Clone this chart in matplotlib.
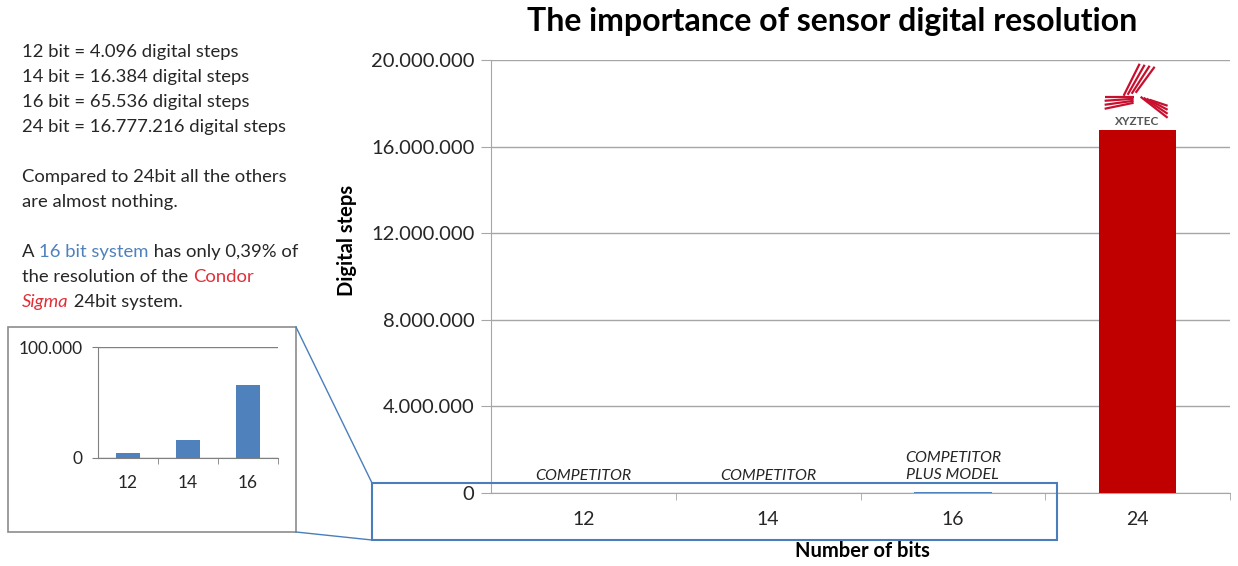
import matplotlib
matplotlib.use("Agg")
import matplotlib.pyplot as plt
from matplotlib.patches import Rectangle
from matplotlib.lines import Line2D
from matplotlib.ticker import FuncFormatter, FixedLocator

plt.rcParams['font.family'] = ['Lato', 'DejaVu Sans']

# ---- data ----
bits = ['12', '14', '16', '24']
steps = [4096, 16384, 65536, 16777216]
bar_colors = ['#4F81BD', '#4F81BD', '#4F81BD', '#C00000']
bar_labels = ['COMPETITOR', 'COMPETITOR', 'COMPETITOR\nPLUS MODEL', '']
y_ticks = [0, 4000000, 8000000, 12000000, 16000000, 20000000]
inset_bits = bits[:3]
inset_steps = steps[:3]
inset_ticks = [0, 100000]

W, H = 1238, 566
fig = plt.figure(figsize=(W / 100, H / 100), dpi=100)


def fx(px):
    return px / W


def fy(py):
    return 1 - py / H


def dots(v, pos=None):
    return f"{int(v):,}".replace(",", ".")


TXT = '#262626'
GRID = '#A6A6A6'

# ---- main axes ----
ax = fig.add_axes([fx(491), fy(493), fx(1230) - fx(491), fy(60) - fy(493)])
x = list(range(len(bits)))
ax.bar(x, steps, width=0.42, color=bar_colors, zorder=3)
ax.set_xlim(-0.5, len(bits) - 0.5)
ax.set_ylim(0, 20000000)
ax.yaxis.set_major_locator(FixedLocator(y_ticks))
ax.yaxis.set_major_formatter(FuncFormatter(dots))
ax.set_xticks(x)
ax.set_xticklabels(bits)
ax.set_xticks([i + 0.5 for i in range(len(bits))], minor=True)
ax.tick_params(axis='x', which='major', length=0, labelsize=14, colors=TXT, pad=13)
ax.tick_params(axis='x', which='minor', length=5, color=GRID, direction='out')
ax.tick_params(axis='y', length=7, color=GRID, labelsize=14.5, labelcolor=TXT, pad=5)
ax.grid(axis='y', color=GRID, lw=1, zorder=0)
for s in ['top', 'right']:
    ax.spines[s].set_visible(False)
for s in ['left', 'bottom']:
    ax.spines[s].set_color(GRID)
ax.set_ylabel('Digital steps', fontsize=14.5, fontweight='bold', color='black')
ax.yaxis.set_label_coords(-0.182, 0.584)
ax.set_xlabel('Number of bits', fontsize=14.5, fontweight='bold', color='black')
ax.xaxis.set_label_coords(0.502, -0.112)
fig.text(fx(832), fy(22), 'The importance of sensor digital resolution', fontsize=23,
         fontweight='bold', ha='center', va='center', color='black')

for xi, v, lab in zip(x, steps, bar_labels):
    if lab:
        ax.annotate(lab, xy=(xi, v), xytext=(0, 7), textcoords='offset points',
                    ha='center', va='bottom', fontsize=11.5, style='italic', color=TXT,
                    linespacing=1.25)

# ---- XYZTEC logo above the 24-bit bar ----
bx, by = x[3], steps[3]


def logo_line(dx0, dy0, dx1, dy1, lw=1.6):
    base = ax.transData.transform((bx, by))
    line = Line2D([base[0] + dx0, base[0] + dx1], [base[1] + dy0, base[1] + dy1],
                  transform=None, color='#C8102E', lw=lw, solid_capstyle='butt')
    fig.add_artist(line)


for i in range(4):
    logo_line(-14 + i * 4, 34 + i * 1, 2 + i * 5, 66 - i * 1)
for i in range(4):
    logo_line(-33, 33 - i * 4, -4, 33 - i * 2)
for i in range(4):
    logo_line(3 + i * 3, 33 - i * 1, 30, 12 + i * 4)
ax.annotate('XYZTEC', xy=(bx, by), xytext=(0, 2), textcoords='offset points',
            ha='center', va='bottom', fontsize=8.5, fontweight='bold', color='#555555')

# ---- inset axes ----
ia = fig.add_axes([fx(98), fy(458), fx(278) - fx(98), fy(347) - fy(458)])
ix = list(range(len(inset_bits)))
ia.bar(ix, inset_steps, width=0.4, color='#4F81BD', zorder=3)
ia.set_xlim(-0.5, len(inset_bits) - 0.5)
ia.set_ylim(0, 100000)
ia.yaxis.set_major_locator(FixedLocator(inset_ticks))
ia.yaxis.set_major_formatter(FuncFormatter(dots))
ia.set_xticks(ix)
ia.set_xticklabels(inset_bits)
ia.set_xticks([i + 0.5 for i in range(len(inset_bits))], minor=True)
ia.tick_params(axis='x', which='major', length=0, labelsize=12.5, colors=TXT, pad=12)
ia.tick_params(axis='x', which='minor', length=4, color='#808080')
ia.tick_params(axis='y', length=4, color='#808080', labelsize=12.5, labelcolor=TXT, pad=7)
ia.grid(axis='y', color='#808080', lw=1, zorder=0)
for s in ['top', 'right']:
    ia.spines[s].set_visible(False)
for s in ['left', 'bottom']:
    ia.spines[s].set_color('#808080')
ia.set_facecolor('none')

# inset frame, zoom rectangle and connectors
fig.add_artist(Rectangle((fx(8), fy(532)), fx(296) - fx(8), fy(327) - fy(532),
                         transform=fig.transFigure, fill=False, ec='#8C8C8C', lw=1.2))
BLUE = '#4A7EBB'
fig.add_artist(Rectangle((fx(372), fy(540)), fx(1057) - fx(372), fy(483) - fy(540),
                         transform=fig.transFigure, fill=False, ec=BLUE, lw=1.5, zorder=5))
fig.add_artist(Line2D([fx(296), fx(372)], [fy(327), fy(483)], transform=fig.transFigure,
                      color=BLUE, lw=1.0))
fig.add_artist(Line2D([fx(296), fx(372)], [fy(532), fy(540)], transform=fig.transFigure,
                      color=BLUE, lw=1.0))

# ---- left explanatory text ----
FS = 13.3
RED = '#E0303A'
LBLUE = '#4F81BD'
text_lines = [
    (57, [('12 bit = 4.096 digital steps', TXT, 'normal')]),
    (82, [('14 bit = 16.384 digital steps', TXT, 'normal')]),
    (107, [('16 bit = 65.536 digital steps', TXT, 'normal')]),
    (132, [('24 bit = 16.777.216 digital steps', TXT, 'normal')]),
    (182, [('Compared to 24bit all the others', TXT, 'normal')]),
    (207, [('are almost nothing.', TXT, 'normal')]),
    (257, [('A ', TXT, 'normal'), ('16 bit system', LBLUE, 'normal'),
           (' has only 0,39% of', TXT, 'normal')]),
    (282, [('the resolution of the ', TXT, 'normal'), ('Condor', RED, 'normal')]),
    (307, [('Sigma', RED, 'italic'), (' 24bit system.', TXT, 'normal')]),
]

for yb, parts in text_lines:
    first_txt, first_col, first_sty = parts[0]
    prev = fig.text(fx(22), fy(yb), first_txt, fontsize=FS, color=first_col,
                    style=first_sty, va='baseline')
    for txt, col, sty in parts[1:]:
        prev = ax.annotate(txt, xy=(1, 0), xycoords=prev, xytext=(0, 0),
                           textcoords='offset points', va='bottom', ha='left',
                           fontsize=FS, color=col, style=sty, annotation_clip=False)

fig.savefig('out.png', dpi=100, facecolor='white')
